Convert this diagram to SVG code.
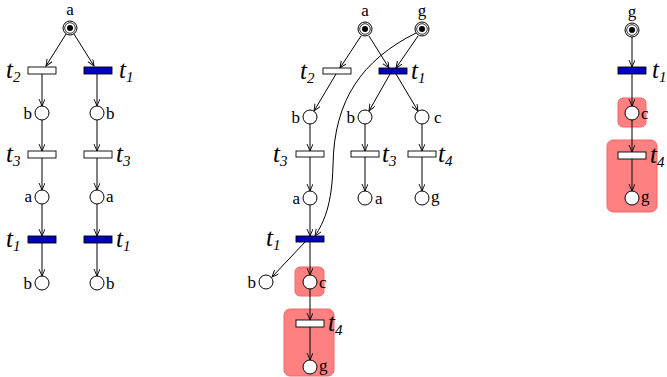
<svg xmlns="http://www.w3.org/2000/svg" width="667" height="377" viewBox="0 0 667 377">
<defs>
<marker id="ah" markerWidth="8" markerHeight="8" refX="7" refY="3" orient="auto" markerUnits="userSpaceOnUse">
<path d="M0,0 L7,3 L0,6" fill="none" stroke="#000" stroke-width="0.9"/>
</marker>
<style>
.pl{fill:#fff;stroke:#000;stroke-width:1}
.tw{fill:#fff;stroke:#000;stroke-width:0.9}
.tb{fill:#0000c0;stroke:#000;stroke-width:0.9}
.hl{fill:#ff8080;stroke:#f06868;stroke-width:1}
.ar{fill:none;stroke:#000;stroke-width:1;marker-end:url(#ah)}
.lb{font-family:"Liberation Serif",serif;font-size:17px;fill:#000}
.tl{font-family:"Liberation Serif",serif;font-size:25px;font-style:italic;fill:#000}
.sb{font-size:15px}
</style>
</defs>
<rect width="667" height="377" fill="#fff"/>

<g id="highlights">
<rect class="hl" x="295" y="267" width="29" height="29" rx="5"/>
<rect class="hl" x="284" y="309" width="50" height="67" rx="6"/>
<rect class="hl" x="618" y="98" width="28" height="29" rx="5"/>
<rect class="hl" x="607" y="140" width="50" height="72" rx="6"/>
</g>

<g id="connectors">
<!-- left net -->
<line class="ar" x1="66" y1="34" x2="46" y2="66"/>
<line class="ar" x1="74" y1="34" x2="94" y2="66"/>
<line class="ar" x1="42" y1="74" x2="42" y2="106"/>
<line class="ar" x1="97" y1="74" x2="97" y2="106"/>
<line class="ar" x1="42" y1="120" x2="42" y2="151"/>
<line class="ar" x1="97" y1="120" x2="97" y2="151"/>
<line class="ar" x1="42" y1="158" x2="42" y2="190"/>
<line class="ar" x1="97" y1="158" x2="97" y2="190"/>
<line class="ar" x1="42" y1="204" x2="42" y2="236"/>
<line class="ar" x1="97" y1="204" x2="97" y2="236"/>
<line class="ar" x1="42" y1="243" x2="42" y2="276"/>
<line class="ar" x1="97" y1="243" x2="97" y2="276"/>
<!-- middle net -->
<line class="ar" x1="361" y1="36" x2="340" y2="68"/>
<line class="ar" x1="369" y1="36" x2="389" y2="68"/>
<line class="ar" x1="418" y1="36" x2="396" y2="68"/>
<line class="ar" x1="336" y1="74" x2="314" y2="111"/>
<line class="ar" x1="390" y1="74" x2="369" y2="111"/>
<line class="ar" x1="396" y1="74" x2="418" y2="111"/>
<line class="ar" x1="310" y1="124" x2="310" y2="151"/>
<line class="ar" x1="365" y1="124" x2="365" y2="151"/>
<line class="ar" x1="422" y1="124" x2="422" y2="151"/>
<line class="ar" x1="310" y1="157" x2="310" y2="191"/>
<line class="ar" x1="365" y1="157" x2="365" y2="191"/>
<line class="ar" x1="422" y1="157" x2="422" y2="191"/>
<line class="ar" x1="310" y1="205" x2="310" y2="236"/>
<path class="ar" d="M416,33 C362,60 334,100 333,165 C332,205 324,222 315,236"/>
<line class="ar" x1="305" y1="242" x2="272" y2="277"/>
<line class="ar" x1="310" y1="242" x2="310" y2="275"/>
<line class="ar" x1="310" y1="289" x2="310" y2="320"/>
<line class="ar" x1="310" y1="327" x2="310" y2="360"/>
<!-- right net -->
<line class="ar" x1="632" y1="37" x2="632" y2="67"/>
<line class="ar" x1="632" y1="74" x2="632" y2="106"/>
<line class="ar" x1="632" y1="120" x2="632" y2="152"/>
<line class="ar" x1="632" y1="158" x2="632" y2="191"/>
</g>

<!-- LEFT NET -->
<g id="L_a0">
<circle class="pl" cx="70" cy="28" r="7"/><circle cx="70" cy="28" r="5.3" fill="none" stroke="#000" stroke-width="0.8"/><circle cx="70" cy="28" r="3" fill="#000"/>
<text class="lb" x="70" y="15" text-anchor="middle">a</text>
</g>
<g id="L_t2"><rect class="tw" x="28" y="67" width="28" height="7"/>
<text class="tl" x="6" y="78">t<tspan class="sb" dy="4">2</tspan></text></g>
<g id="L_t1a"><rect class="tb" x="84" y="67" width="28" height="7"/>
<text class="tl" x="119" y="78">t<tspan class="sb" dy="4">1</tspan></text></g>
<g id="L_b1"><circle class="pl" cx="42" cy="113" r="7"/><text class="lb" x="32" y="119" text-anchor="end">b</text></g>
<g id="L_b2"><circle class="pl" cx="97" cy="113" r="7"/><text class="lb" x="106" y="119">b</text></g>
<g id="L_t3a"><rect class="tw" x="28" y="151" width="28" height="7"/>
<text class="tl" x="6" y="162">t<tspan class="sb" dy="4">3</tspan></text></g>
<g id="L_t3b"><rect class="tw" x="84" y="151" width="28" height="7"/>
<text class="tl" x="116" y="162">t<tspan class="sb" dy="4">3</tspan></text></g>
<g id="L_a1"><circle class="pl" cx="42" cy="197" r="7"/><text class="lb" x="32" y="202" text-anchor="end">a</text></g>
<g id="L_a2"><circle class="pl" cx="97" cy="197" r="7"/><text class="lb" x="106" y="202">a</text></g>
<g id="L_t1b"><rect class="tb" x="28" y="236" width="28" height="7"/>
<text class="tl" x="6" y="247">t<tspan class="sb" dy="4">1</tspan></text></g>
<g id="L_t1c"><rect class="tb" x="84" y="236" width="28" height="7"/>
<text class="tl" x="116" y="247">t<tspan class="sb" dy="4">1</tspan></text></g>
<g id="L_b3"><circle class="pl" cx="42" cy="283" r="7"/><text class="lb" x="32" y="289" text-anchor="end">b</text></g>
<g id="L_b4"><circle class="pl" cx="97" cy="283" r="7"/><text class="lb" x="106" y="289">b</text></g>

<!-- MIDDLE NET -->
<g id="M_a0">
<circle class="pl" cx="365" cy="29" r="7"/><circle cx="365" cy="29" r="5.3" fill="none" stroke="#000" stroke-width="0.8"/><circle cx="365" cy="29" r="3" fill="#000"/>
<text class="lb" x="365" y="16" text-anchor="middle">a</text>
</g>
<g id="M_g0">
<circle class="pl" cx="422" cy="29" r="7"/><circle cx="422" cy="29" r="5.3" fill="none" stroke="#000" stroke-width="0.8"/><circle cx="422" cy="29" r="3" fill="#000"/>
<text class="lb" x="422" y="16" text-anchor="middle">g</text>
</g>
<g id="M_t2"><rect class="tw" x="323" y="68" width="28" height="6"/>
<text class="tl" x="300" y="79">t<tspan class="sb" dy="4">2</tspan></text></g>
<g id="M_t1a"><rect class="tb" x="379" y="68" width="28" height="6"/>
<text class="tl" x="411" y="79">t<tspan class="sb" dy="4">1</tspan></text></g>
<g id="M_b1"><circle class="pl" cx="310" cy="117" r="7"/><text class="lb" x="300" y="123" text-anchor="end">b</text></g>
<g id="M_b2"><circle class="pl" cx="365" cy="117" r="7"/><text class="lb" x="355" y="123" text-anchor="end">b</text></g>
<g id="M_c1"><circle class="pl" cx="422" cy="117" r="7"/><text class="lb" x="434" y="123">c</text></g>
<g id="M_t3a"><rect class="tw" x="296" y="151" width="28" height="6"/>
<text class="tl" x="273" y="162">t<tspan class="sb" dy="4">3</tspan></text></g>
<g id="M_t3b"><rect class="tw" x="351" y="151" width="28" height="6"/>
<text class="tl" x="382" y="162">t<tspan class="sb" dy="4">3</tspan></text></g>
<g id="M_t4a"><rect class="tw" x="408" y="151" width="28" height="6"/>
<text class="tl" x="438" y="162">t<tspan class="sb" dy="4">4</tspan></text></g>
<g id="M_a1"><circle class="pl" cx="310" cy="198" r="7"/><text class="lb" x="300" y="204" text-anchor="end">a</text></g>
<g id="M_a2"><circle class="pl" cx="365" cy="198" r="7"/><text class="lb" x="375" y="204">a</text></g>
<g id="M_g1"><circle class="pl" cx="422" cy="198" r="7"/><text class="lb" x="431" y="202">g</text></g>
<g id="M_t1b"><rect class="tb" x="296" y="236" width="28" height="6"/>
<text class="tl" x="266" y="246">t<tspan class="sb" dy="4">1</tspan></text></g>
<g id="M_b3"><circle class="pl" cx="266" cy="282" r="7"/><text class="lb" x="256" y="288" text-anchor="end">b</text></g>
<g id="M_c2"><circle class="pl" cx="310" cy="282" r="7"/><text class="lb" x="319" y="288">c</text></g>
<g id="M_t4b"><rect class="tw" x="296" y="320" width="28" height="7"/>
<text class="tl" x="328" y="331">t<tspan class="sb" dy="4">4</tspan></text></g>
<g id="M_g2"><circle class="pl" cx="310" cy="367" r="7"/><text class="lb" x="319" y="371">g</text></g>

<!-- RIGHT NET -->
<g id="R_g0">
<circle class="pl" cx="632" cy="30" r="7"/><circle cx="632" cy="30" r="5.3" fill="none" stroke="#000" stroke-width="0.8"/><circle cx="632" cy="30" r="3" fill="#000"/>
<text class="lb" x="632" y="17" text-anchor="middle">g</text>
</g>
<g id="R_t1"><rect class="tb" x="618" y="67" width="28" height="7"/>
<text class="tl" x="652" y="78">t<tspan class="sb" dy="4">1</tspan></text></g>
<g id="R_c"><circle class="pl" cx="632" cy="113" r="7"/><text class="lb" x="641" y="119">c</text></g>
<g id="R_t4"><rect class="tw" x="618" y="152" width="28" height="7"/>
<text class="tl" x="650" y="163">t<tspan class="sb" dy="4">4</tspan></text></g>
<g id="R_g1"><circle class="pl" cx="632" cy="198" r="7"/><text class="lb" x="641" y="202">g</text></g>
</svg>
